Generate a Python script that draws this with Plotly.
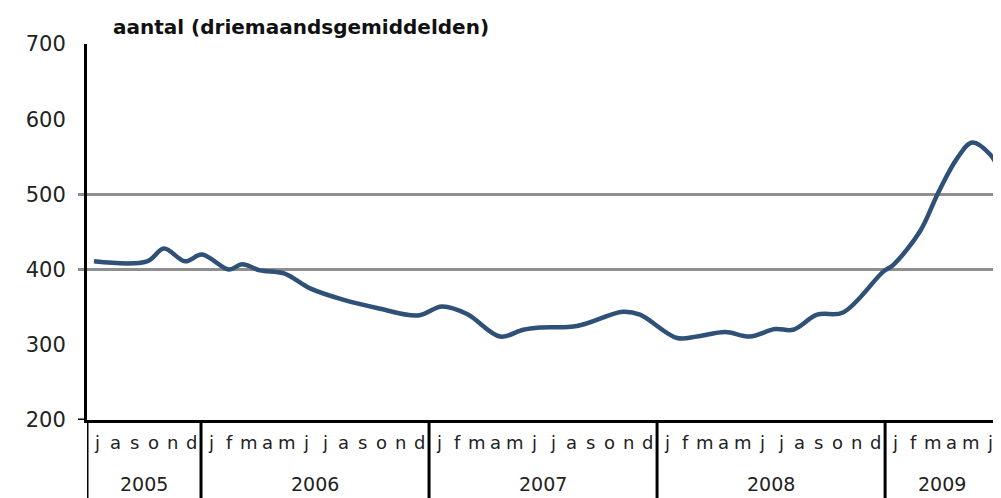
import plotly.graph_objects as go

# Time position in months since start of July 2005, and the three-month average count
month_pos = [0.37, 3.16, 4.05, 5.16, 6.05, 7.47, 8.16, 9.1, 10.37, 11.74, 13.47, 15.26,
             17.42, 18.68, 20.0, 21.74, 22.95, 23.84, 25.79, 28.21, 29.1, 31.05, 32.1,
             33.58, 34.89, 36.21, 37.16, 38.42, 39.79, 41.89, 42.42, 43.84, 44.79,
             45.79, 46.58, 47.53, 48.1]
values = [411, 411, 428, 411, 420, 400, 407, 399, 395, 375, 360, 349,
          339, 351, 341, 311, 320, 323, 325, 344, 340, 309, 311,
          317, 311, 321, 320, 340, 343, 397, 406, 451, 502,
          548, 569, 553, 527]

years = ["2005", "2006", "2007", "2008", "2009"]
year_months = ["jasond", "jfmamjjasond", "jfmamjjasond", "jfmamjjasond", "jfmamj"]
y_ticks = [200, 300, 400, 500, 600, 700]
grid_values = [400, 500]
title_text = "aantal (driemaandsgemiddelden)"

FONT = "DejaVu Sans"
# page has an 8px body margin, so the figure is sized to fit the window
W, H = 993, 490
L, R, T, B = 79, 0, 36, 78
plot_w = W - L - R
plot_h = H - T - B

fig = go.Figure()
fig.add_trace(go.Scatter(
    x=month_pos, y=values, mode="lines",
    line=dict(color="#2f5178", width=4.5, shape="spline", smoothing=1.0),
    hoverinfo="skip", showlegend=False,
))

shapes = []
for g in grid_values:
    shapes.append(dict(type="line", xref="paper", yref="y", x0=-9 / plot_w, x1=1,
                       y0=g, y1=g, line=dict(color="#8f8f8f", width=3), layer="below"))
shapes.append(dict(type="line", xref="paper", yref="y", x0=-9 / plot_w, x1=0,
                   y0=200, y1=200, line=dict(color="black", width=3)))

annotations = []
start = 0
below = -B / plot_h
for yr, letters in zip(years, year_months):
    n = len(letters)
    shapes.append(dict(type="line", xref="x", yref="paper", x0=start, x1=start,
                       y0=0, y1=below, line=dict(color="black", width=3)))
    for i, ch in enumerate(letters):
        annotations.append(dict(x=start + i + 0.5, y=0, xref="x", yref="paper",
                                text=ch, showarrow=False, yanchor="middle", yshift=-22,
                                font=dict(family=FONT, size=18, color="#222")))
    annotations.append(dict(x=start + n / 2, y=0, xref="x", yref="paper",
                            text=yr, showarrow=False, yanchor="middle", yshift=-64,
                            font=dict(family=FONT, size=19, color="#222")))
    start += n

annotations.append(dict(x=(103 - L) / plot_w, y=1, xref="paper", yref="paper",
                        text="<b>" + title_text + "</b>", showarrow=False,
                        xanchor="left", yanchor="middle", yshift=17,
                        font=dict(family=FONT, size=20, color="#111")))

fig.update_layout(
    width=W, height=H,
    margin=dict(l=L, r=R, t=T, b=B, pad=0),
    paper_bgcolor="white", plot_bgcolor="white",
    shapes=shapes, annotations=annotations,
    xaxis=dict(range=[0, 48.1], showgrid=False, zeroline=False, showticklabels=False,
               showline=True, linecolor="black", linewidth=3, ticks=""),
    yaxis=dict(range=[200, 700], tickvals=y_ticks, showgrid=False, zeroline=False,
               showline=True, linecolor="black", linewidth=3, ticks="",
               ticklabelstandoff=14,
               tickfont=dict(family=FONT, size=21, color="#222")),
)

fig.write_html("out.html")
